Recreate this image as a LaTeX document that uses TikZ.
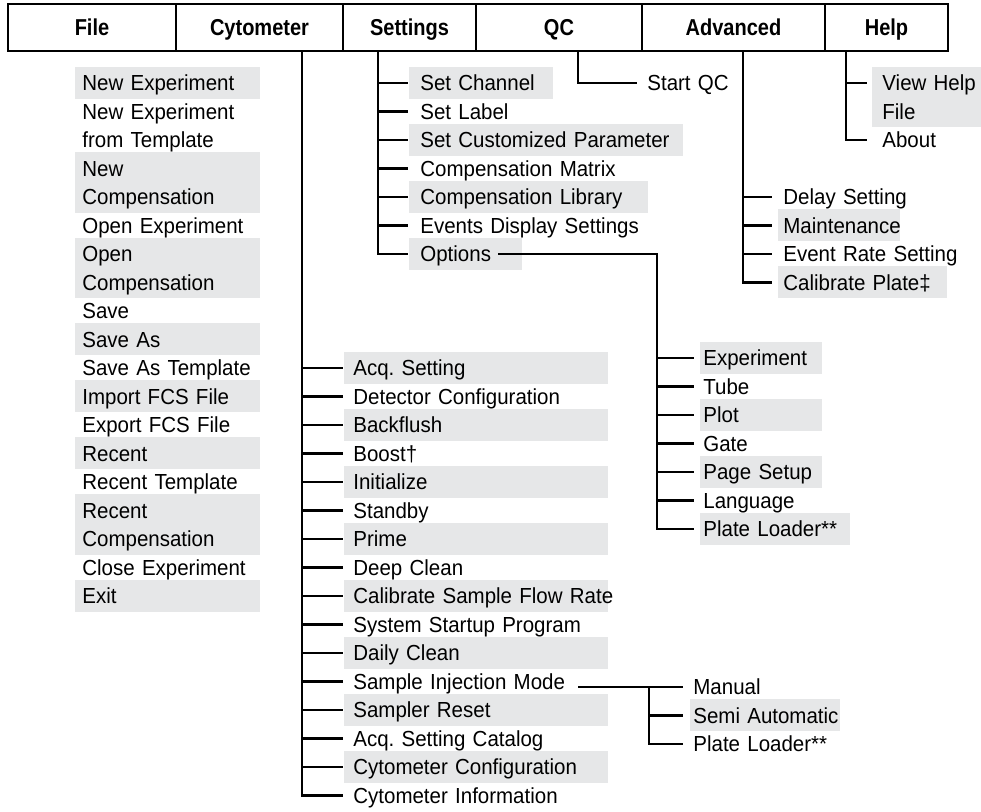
\documentclass[tikz,border=0pt]{standalone}
\usepackage{fontspec}
\setmainfont[FakeStretch=0.94]{Liberation Sans}
\newfontfamily\menufont[FakeStretch=0.87]{Liberation Sans}
\usepackage{tikz}
\definecolor{bandgray}{RGB}{230,231,232}
\frenchspacing

\tikzset{
  frame/.style={line width=1.1pt},
  conn/.style={line width=1.1pt},
  menu/.style={font=\menufont\bfseries\fontsize{11.5}{13}\selectfont, text height=9.37pt, text depth=1.13pt, inner sep=0pt},
  item/.style={anchor=west, align=left, inner ysep=2.75pt, text height=9.15pt, text depth=1.35pt,
    font=\fontsize{10.9}{14.25}\selectfont,
    execute at begin node={\hyphenpenalty=10000\relax\exhyphenpenalty=10000\relax}},
  plain/.style={},
  band/.style={fill=bandgray},
  tworow/.style={text depth=15.6pt},
  bandtwo/.style={band, tworow},
  filecol/.style={item, inner xsep=3.5pt, text width=85.5pt},
  cytcol/.style={item, inner xsep=4.5pt, text width=123pt},
  setcol/.style={item, inner xsep=5.5pt},
  optcol/.style={item, inner xsep=1.5pt},
  advcol/.style={item, inner xsep=2.5pt},
  helpcol/.style={item, inner xsep=5pt, text width=60pt},
  simcol/.style={item, inner xsep=1.5pt, text width=72pt},
}

\begin{document}
\begin{tikzpicture}[x=0.5pt, y=-0.5pt]
  \useasboundingbox (0,0) rectangle (981,812);

  % Menu bar
  \draw[frame] (8,4) rectangle (948,51);
  \foreach \x in {176,343,476,642,825}
    \draw[frame] (\x,4) -- (\x,51);
  \node[menu] (mFile) at (92,27.5) {File};
  \node[menu] (mCyt) at (259.5,27.5) {Cytometer};
  \node[menu] (mSet) at (409.5,27.5) {Settings};
  \node[menu] (mQC) at (559,27.5) {QC};
  \node[menu] (mAdv) at (733.5,27.5) {Advanced};
  \node[menu] (mHelp) at (886.5,27.5) {Help};

  \coordinate (cytTop) at (302,51);
  \coordinate (setTop) at (378,51);
  \coordinate (qcTop) at (578,51);
  \coordinate (advTop) at (743,51);
  \coordinate (helpTop) at (846,51);

  % File menu
  \foreach \r/\t/\s [count=\i] in {
    1/New Experiment/band,
    2.5/New Experiment\\from Template/tworow,
    4.5/New\\Compensation/bandtwo,
    6/Open Experiment/plain,
    7.5/Open\\Compensation/bandtwo,
    9/Save/plain,
    10/Save As/band,
    11/Save~As~Template/plain,
    12/Import FCS File/band,
    13/Export FCS File/plain,
    14/Recent/band,
    15/Recent Template/plain,
    16.5/Recent\\Compensation/bandtwo,
    18/Close Experiment/plain,
    19/Exit/band}
    \node[filecol, \s] (f\i) at (75,{83+28.5*(\r-1)}) {\t};

  % Cytometer menu
  \foreach \t/\s [count=\i] in {
    Acq. Setting/band, Detector Configuration/plain, Backflush/band,
    Boost†/plain, Initialize/band, Standby/plain, Prime/band,
    Deep Clean/plain, Calibrate~Sample~Flow~Rate/band,
    System Startup Program/plain, Daily Clean/band,
    Sample Injection Mode/plain, Sampler Reset/band,
    Acq. Setting Catalog/plain, Cytometer Configuration/band,
    Cytometer Information/plain}
    \node[cytcol, \s] (c\i) at (344,{368+28.5*(\i-1)}) {\t};
  \draw[conn, shorten >=0.5pt] (cytTop) |- (c16.west);
  \foreach \i in {1,...,15}
    \draw[conn, shorten >=0.5pt] (c\i.west -| cytTop) -- (c\i.west);

  % Sample injection mode
  \coordinate (simx) at (578,687);
  \coordinate (simTrunk) at (649,687);
  \foreach \t/\s [count=\i] in {Manual/plain, Semi~Automatic/band, Plate~Loader**/plain}
    \node[simcol, \s] (m\i) at (690,{687+28.5*(\i-1)}) {\t};
  \draw[conn, shorten >=3.5pt] (simx) -- (m1.west);
  \draw[conn, shorten >=3.5pt] (simTrunk) |- (m3.west);
  \draw[conn, shorten >=3.5pt] (m2.west -| simTrunk) -- (m2.west);

  % Settings menu
  \foreach \t/\w/\s [count=\i] in {
    Set Channel/61/band, Set Label/125/plain,
    Set~Customized~Parameter/126/band, Compensation Matrix/125/plain,
    Compensation Library/108.5/band, Events Display Settings/125/plain,
    Options/45.5/band}
    \node[setcol, text width=\w pt, \s] (s\i) at (409,{83+28.5*(\i-1)}) {\t};
  \draw[conn, shorten >=0.5pt] (setTop) |- (s7.west);
  \foreach \i in {1,...,6}
    \draw[conn, shorten >=0.5pt] (s\i.west -| setTop) -- (s\i.west);

  % Options
  \coordinate (optx) at (498,254);
  \coordinate (optTrunk) at (657,254);
  \foreach \t/\w/\s [count=\i] in {
    Experiment/58/band, Tube/58/plain, Plot/58/band, Gate/58/plain,
    Page Setup/58/band, Language/58/plain, Plate~Loader**/72/band}
    \node[optcol, text width=\w pt, \s] (o\i) at (700,{358+28.5*(\i-1)}) {\t};
  \draw[conn, shorten >=3pt] (optx) -- (optTrunk) |- (o7.west);
  \foreach \i in {1,...,6}
    \draw[conn, shorten >=3pt] (o\i.west -| optTrunk) -- (o\i.west);

  % QC menu
  \node[advcol, text width=60pt] (q1) at (642,83) {Start QC};
  \draw[conn, shorten >=2.5pt] (qcTop) |- (q1.west);

  % Advanced menu
  \foreach \t/\w/\s [count=\i] in {
    Delay Setting/90/plain, Maintenance/56/band,
    Event~Rate~Setting/100/plain, Calibrate~Plate‡/79.5/band}
    \node[advcol, text width=\w pt, \s] (a\i) at (778,{197+28.5*(\i-1)}) {\t};
  \draw[conn, shorten >=3pt] (advTop) |- (a4.west);
  \foreach \i in {1,...,3}
    \draw[conn, shorten >=3pt] (a\i.west -| advTop) -- (a\i.west);

  % Help menu
  \node[helpcol, bandtwo] (h1) at (872,97.25) {View Help\\File};
  \node[helpcol] (h2) at (872,140) {About};
  \draw[conn, shorten >=2.5pt] (helpTop) |- (h2.west);
  \draw[conn, shorten >=2.5pt] ([yshift=7.125pt]h1.west -| helpTop) -- ([yshift=7.125pt]h1.west);
\end{tikzpicture}
\end{document}
